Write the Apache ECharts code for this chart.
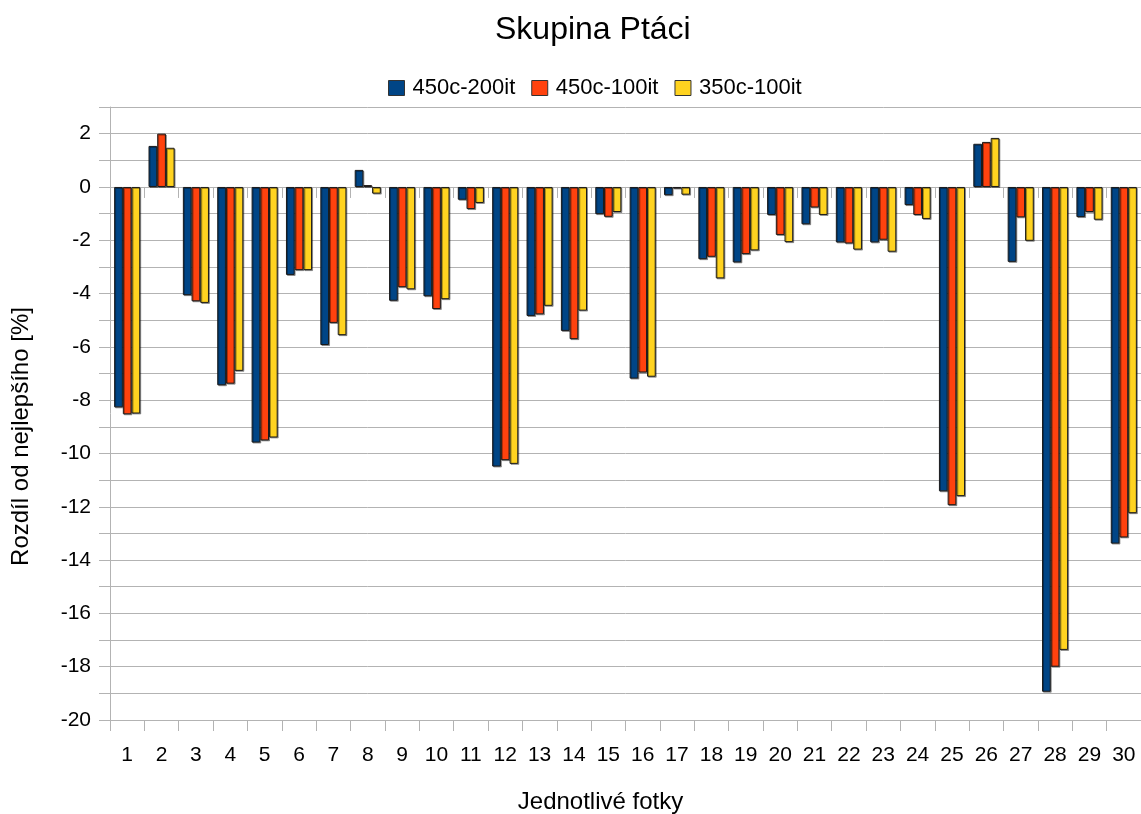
<!DOCTYPE html>
<html>
<head>
<meta charset="utf-8">
<title>Skupina Ptáci</title>
<script src="https://cdn.jsdelivr.net/npm/echarts@6/dist/echarts.min.js"></script>
<style>
  html, body { margin: 0; padding: 0; background: #fff; }
  #chart { width: 1141px; height: 814px; }
</style>
</head>
<body>
<div id="chart"></div>
<script>
const photos = ['1', '2', '3', '4', '5', '6', '7', '8', '9', '10',
  '11', '12', '13', '14', '15', '16', '17', '18', '19', '20',
  '21', '22', '23', '24', '25', '26', '27', '28', '29', '30'];

const c450i200 = [-8.27, 1.54, -4.06, -7.44, -9.59, -3.3, -5.93, 0.64, -4.27, -4.1,
  -0.48, -10.49, -4.84, -5.4, -1.02, -7.19, -0.31, -2.71, -2.83, -1.05,
  -1.4, -2.08, -2.08, -0.68, -11.42, 1.62, -2.81, -18.94, -1.13, -13.38];

const c450i100 = [-8.53, 2.0, -4.29, -7.38, -9.51, -3.12, -5.1, 0.07, -3.76, -4.58,
  -0.83, -10.25, -4.78, -5.71, -1.12, -6.96, -0.06, -2.62, -2.52, -1.8,
  -0.77, -2.12, -1.98, -1.05, -11.94, 1.69, -1.14, -18.0, -0.94, -13.15];

const c350i100 = [-8.5, 1.47, -4.35, -6.9, -9.4, -3.12, -5.56, -0.25, -3.84, -4.21,
  -0.6, -10.39, -4.46, -4.64, -0.94, -7.12, -0.29, -3.43, -2.38, -2.07,
  -1.05, -2.35, -2.43, -1.2, -11.6, 1.84, -2.02, -17.37, -1.23, -12.24];

const seriesNames = ['450c-200it', '450c-100it', '350c-100it'];
const colors = ['#004586', '#ff420e', '#ffd320'];

const font = '"Liberation Sans", Arial, sans-serif';
const chart = echarts.init(document.getElementById('chart'));

const barStyle = {
  borderColor: '#1a1a1a',
  borderWidth: 1,
  shadowColor: 'rgba(0,0,0,0.35)',
  shadowOffsetX: 1,
  shadowOffsetY: 1,
  shadowBlur: 0
};

chart.setOption({
  animation: false,
  color: colors,
  title: {
    text: 'Skupina Ptáci',
    left: 490,
    top: 9,
    textStyle: { fontFamily: font, fontSize: 32, fontWeight: 'normal', color: '#000' }
  },
  legend: {
    top: 72,
    left: 383,
    itemWidth: 16,
    itemHeight: 15,
    itemGap: 16,
    icon: 'rect',
    itemStyle: { borderColor: '#333', borderWidth: 1 },
    textStyle: { fontFamily: font, fontSize: 22, color: '#000', padding: [0, 0, 0, 3] },
    data: seriesNames
  },
  grid: { left: 110, right: 0, top: 107, bottom: 94, outerBoundsMode: 'none' },
  xAxis: [
    {
      type: 'category',
      data: photos,
      position: 'bottom',
      name: 'Jednotlivé fotky',
      nameLocation: 'middle',
      nameGap: 70,
      nameTextStyle: { fontFamily: font, fontSize: 24, color: '#000', padding: [0, 50, 0, 0] },
      axisLine: { onZero: false, lineStyle: { color: '#b3b3b3' } },
      axisTick: { show: true, length: 11, lineStyle: { color: '#b3b3b3' } },
      axisLabel: { fontFamily: font, fontSize: 21, color: '#000', margin: 25 }
    },
    {
      type: 'category',
      data: photos,
      position: 'bottom',
      axisLine: { onZero: true, lineStyle: { color: '#b3b3b3' } },
      axisTick: { show: true, length: 11, lineStyle: { color: '#b3b3b3' } },
      axisLabel: { show: false }
    }
  ],
  yAxis: {
    type: 'value',
    min: -20,
    max: 3,
    interval: 1,
    name: 'Rozdíl od nejlepšího [%]',
    nameLocation: 'middle',
    nameGap: 77,
    nameRotate: 90,
    nameTextStyle: { fontFamily: font, fontSize: 24, color: '#000', padding: [0, 46, 0, 0] },
    axisLine: { show: true, lineStyle: { color: '#b3b3b3' } },
    axisTick: { show: true, length: 11, lineStyle: { color: '#b3b3b3' } },
    axisLabel: {
      fontFamily: font, fontSize: 21, color: '#000', margin: 19,
      formatter: v => (v % 2 === 0 && v !== 3 ? String(v) : '')
    },
    splitLine: { show: true, lineStyle: { color: '#b3b3b3' } }
  },
  series: [c450i200, c450i100, c350i100].map((values, i) => ({
    name: seriesNames[i],
    type: 'bar',
    xAxisIndex: 0,
    data: values,
    barWidth: 8.7,
    barGap: '0%',
    itemStyle: barStyle
  }))
});
</script>
</body>
</html>
